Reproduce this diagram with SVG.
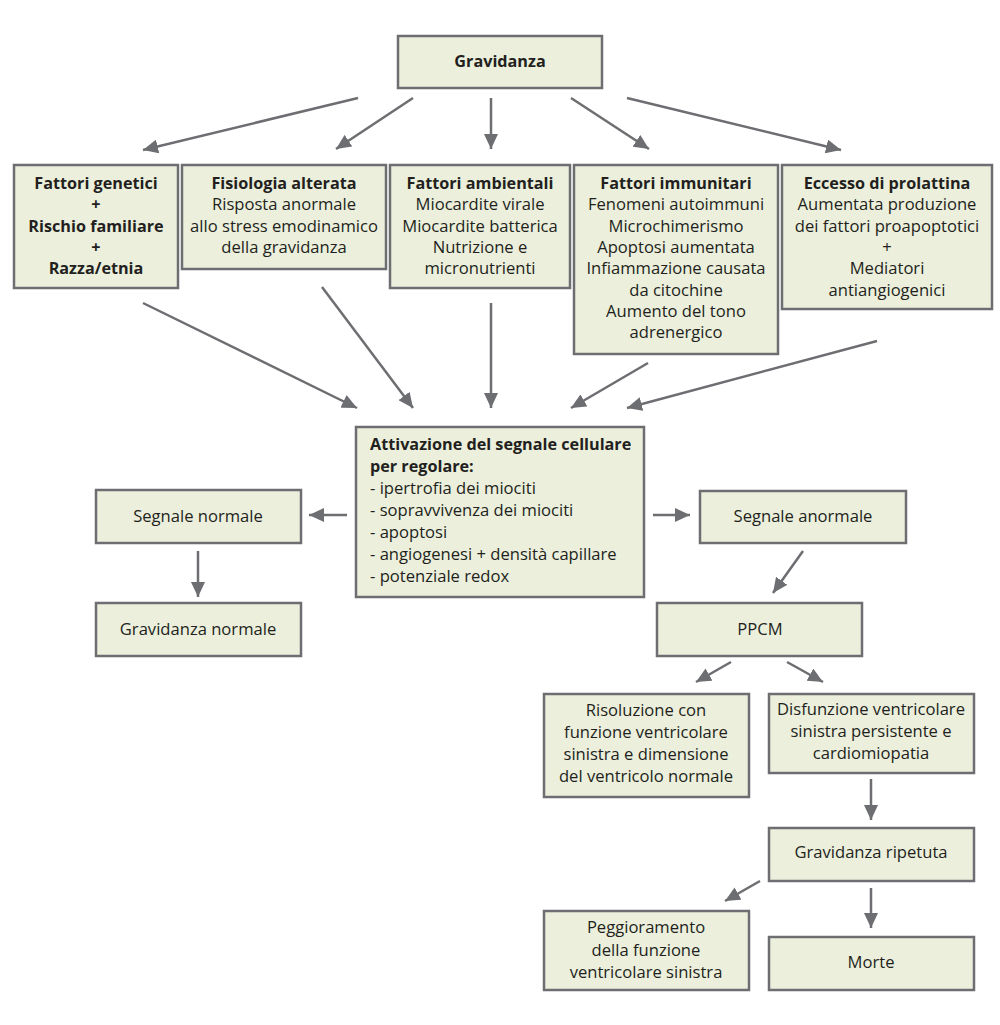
<svg xmlns="http://www.w3.org/2000/svg" width="1000" height="1025" viewBox="0 0 1000 1025">
<defs>
<marker id="ah" markerUnits="userSpaceOnUse" markerWidth="16" markerHeight="14" refX="15" refY="7" orient="auto">
<path d="M0,0 L15,7 L0,14 z" fill="#6d6e71"/>
</marker>
<style>
.box{fill:#ebefdc;stroke:#6d6e71;stroke-width:2.5}
text{font-family:"Open Sans","Liberation Sans",sans-serif;font-size:16.6px;fill:#231f20}
.c{text-anchor:middle}
.b{font-weight:bold;font-size:16.2px}
.conn line{stroke:#6d6e71;stroke-width:2.5;marker-end:url(#ah)}
</style>
</defs>
<rect width="1000" height="1025" fill="#fff"/>
<g id="gravidanza"><rect class="box" x="398" y="36" width="204" height="52"/><text class="c b" x="500" y="67">Gravidanza</text></g>
<g id="genetici"><rect class="box" x="14" y="165" width="164" height="123"/>
<text class="c b" x="96"><tspan x="96" y="189">Fattori genetici</tspan><tspan x="96" y="210">+</tspan><tspan x="96" y="232">Rischio familiare</tspan><tspan x="96" y="253">+</tspan><tspan x="96" y="274">Razza/etnia</tspan></text></g>
<g id="fisiologia"><rect class="box" x="182" y="165" width="204" height="104"/>
<text class="c" x="284"><tspan class="b" x="284" y="189">Fisiologia alterata</tspan><tspan x="284" y="210">Risposta anormale</tspan><tspan x="284" y="232">allo stress emodinamico</tspan><tspan x="284" y="253">della gravidanza</tspan></text></g>
<g id="ambientali"><rect class="box" x="390" y="165" width="180" height="123"/>
<text class="c" x="480"><tspan class="b" x="480" y="189">Fattori ambientali</tspan><tspan x="480" y="210">Miocardite virale</tspan><tspan x="480" y="232">Miocardite batterica</tspan><tspan x="480" y="253">Nutrizione e</tspan><tspan x="480" y="274">micronutrienti</tspan></text></g>
<g id="immunitari"><rect class="box" x="574" y="165" width="204" height="189"/>
<text class="c" x="676"><tspan class="b" x="676" y="189">Fattori immunitari</tspan><tspan x="676" y="210">Fenomeni autoimmuni</tspan><tspan x="676" y="232">Microchimerismo</tspan><tspan x="676" y="253">Apoptosi aumentata</tspan><tspan x="676" y="274">Infiammazione causata</tspan><tspan x="676" y="296">da citochine</tspan><tspan x="676" y="317">Aumento del tono</tspan><tspan x="676" y="338">adrenergico</tspan></text></g>
<g id="prolattina"><rect class="box" x="782" y="165" width="210" height="144"/>
<text class="c" x="887"><tspan class="b" x="887" y="189">Eccesso di prolattina</tspan><tspan x="887" y="210">Aumentata produzione</tspan><tspan x="887" y="232">dei fattori proapoptotici</tspan><tspan x="887" y="253">+</tspan><tspan x="887" y="274">Mediatori</tspan><tspan x="887" y="296">antiangiogenici</tspan></text></g>
<g id="attivazione"><rect class="box" x="356" y="427" width="288" height="170"/>
<text x="370"><tspan class="b" x="370" y="450">Attivazione del segnale cellulare</tspan><tspan class="b" x="370" y="472">per regolare:</tspan><tspan x="370" y="494">- ipertrofia dei miociti</tspan><tspan x="370" y="516">- sopravvivenza dei miociti</tspan><tspan x="370" y="538">- apoptosi</tspan><tspan x="370" y="560">- angiogenesi + densità capillare</tspan><tspan x="370" y="582">- potenziale redox</tspan></text></g>
<g id="segnale-normale"><rect class="box" x="96" y="490" width="205" height="53"/><text class="c" x="198" y="522">Segnale normale</text></g>
<g id="gravidanza-normale"><rect class="box" x="96" y="603" width="205" height="53"/><text class="c" x="198" y="635">Gravidanza normale</text></g>
<g id="segnale-anormale"><rect class="box" x="700" y="491" width="206" height="52"/><text class="c" x="803" y="522">Segnale anormale</text></g>
<g id="ppcm"><rect class="box" x="657" y="603" width="205" height="53"/><text class="c" x="760" y="635">PPCM</text></g>
<g id="risoluzione"><rect class="box" x="544" y="694" width="205" height="103"/>
<text class="c" x="646"><tspan x="646" y="716">Risoluzione con</tspan><tspan x="646" y="738">funzione ventricolare</tspan><tspan x="646" y="760">sinistra e dimensione</tspan><tspan x="646" y="782">del ventricolo normale</tspan></text></g>
<g id="disfunzione"><rect class="box" x="769" y="694" width="205" height="79"/>
<text class="c" x="871"><tspan x="871" y="715">Disfunzione ventricolare</tspan><tspan x="871" y="737">sinistra persistente e</tspan><tspan x="871" y="759">cardiomiopatia</tspan></text></g>
<g id="gravidanza-ripetuta"><rect class="box" x="769" y="828" width="205" height="53"/><text class="c" x="871" y="858">Gravidanza ripetuta</text></g>
<g id="peggioramento"><rect class="box" x="544" y="911" width="205" height="79"/>
<text class="c" x="646"><tspan x="646" y="933">Peggioramento</tspan><tspan x="646" y="956">della funzione</tspan><tspan x="646" y="978">ventricolare sinistra</tspan></text></g>
<g id="morte"><rect class="box" x="769" y="937" width="205" height="53"/><text class="c" x="871" y="968">Morte</text></g>
<g id="connectors" class="conn">
<line x1="358" y1="98" x2="143" y2="150"/>
<line x1="413" y1="98" x2="336" y2="149"/>
<line x1="491" y1="98" x2="491" y2="149"/>
<line x1="571" y1="98" x2="649" y2="149"/>
<line x1="627" y1="98" x2="841" y2="150"/>
<line x1="143" y1="303" x2="357" y2="408"/>
<line x1="322" y1="287" x2="413" y2="408"/>
<line x1="491" y1="303" x2="491" y2="408"/>
<line x1="648" y1="363" x2="571" y2="408"/>
<line x1="877" y1="341" x2="627" y2="408"/>
<line x1="347" y1="515" x2="309" y2="515"/>
<line x1="198" y1="551" x2="198" y2="597"/>
<line x1="653" y1="515" x2="690" y2="515"/>
<line x1="803" y1="551" x2="773" y2="593"/>
<line x1="731" y1="662" x2="696" y2="682"/>
<line x1="787" y1="662" x2="823" y2="682"/>
<line x1="871" y1="779" x2="871" y2="820"/>
<line x1="760" y1="881" x2="725" y2="901"/>
<line x1="871" y1="888" x2="871" y2="928"/>
</g>
</svg>
